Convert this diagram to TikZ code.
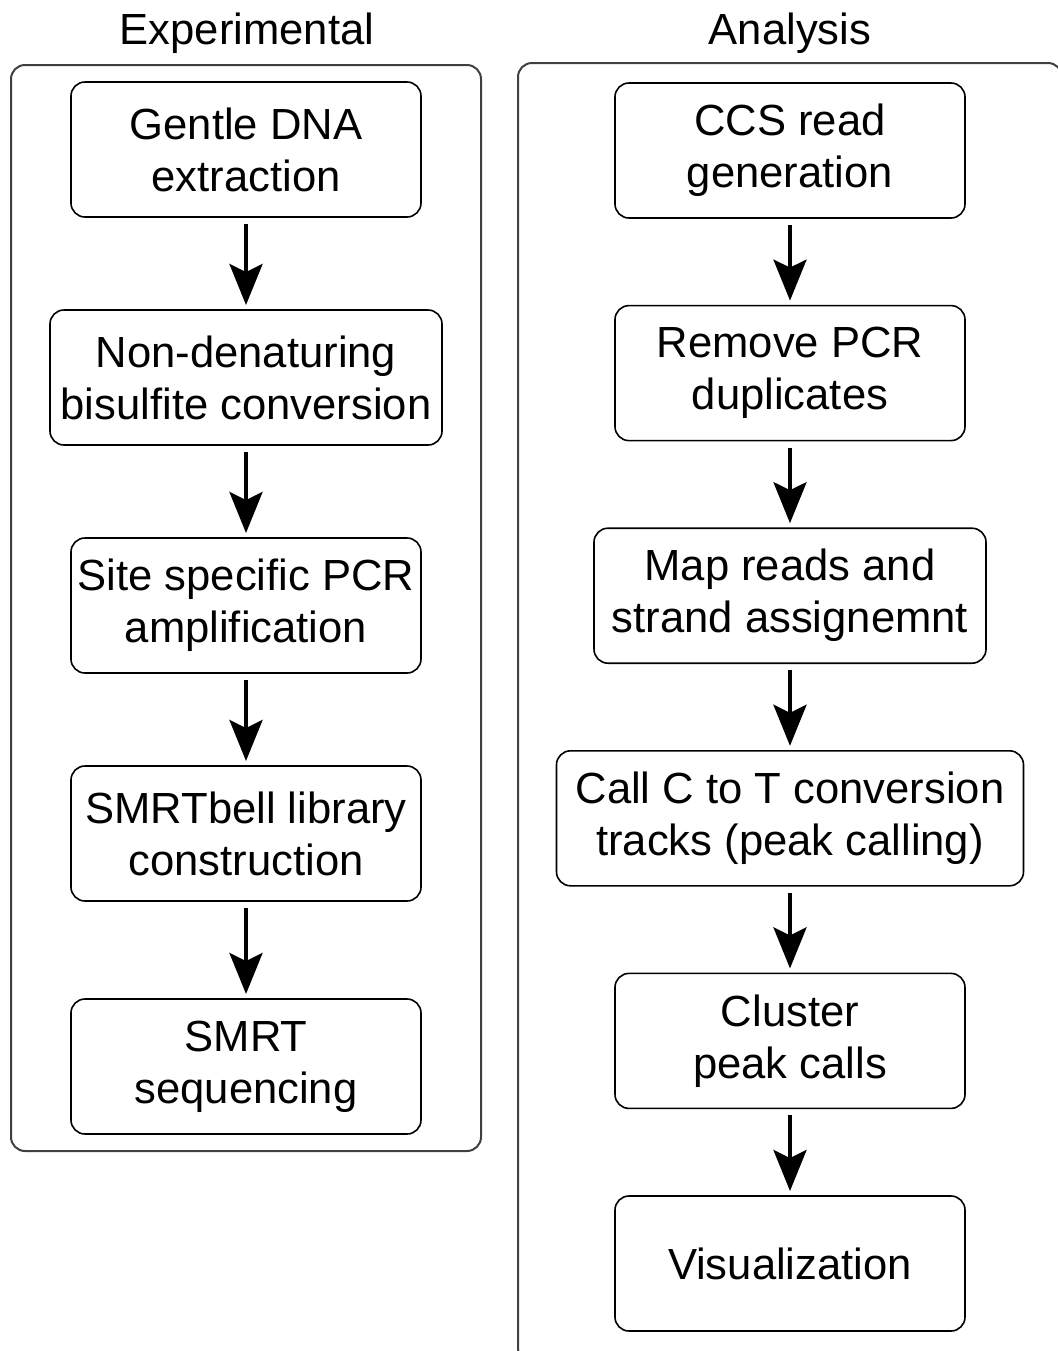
\documentclass[tikz,border=0pt]{standalone}
\usepackage{fontspec}
\setmainfont{Liberation Sans}
\usepackage{tikz}
\usetikzlibrary{arrows.meta,positioning,fit,calc}
\tikzset{
    stepbox/.style={
        draw=black,
        line width=0.8pt,
        rounded corners=7pt,
        align=center,
        inner xsep=2pt,
        outer sep=0pt,
        minimum height=67.5pt,
        minimum width=175pt,
        font=\fontsize{21.8pt}{26pt}\selectfont
    },
    panel/.style={
        draw=black!75,
        line width=1pt,
        rounded corners=7pt
    },
    heading/.style={
        anchor=base,
        font=\fontsize{21.8pt}{26pt}\selectfont
    },
    flow/.style={
        -{Stealth[length=20.5pt,width=16.5pt,inset=4pt]},
        line width=2pt,
        shorten <=3.5pt,
        shorten >=2.5pt
    }
}

\begin{document}
\begin{tikzpicture}[x=0.5pt,y=-0.5pt,node distance=46.5pt]
        \useasboundingbox (0,0) rectangle (1057,1351);

        % experimental side
        \node[stepbox] (extract) at (246,149.5) {Gentle DNA\\extraction};
        \node[stepbox, minimum width=196pt, below=of extract] (bisulfite) {Non-denaturing\\bisulfite conversion};
        \node[stepbox, below=of bisulfite] (pcr) {Site specific PCR\\amplification};
        \node[stepbox, below=of pcr] (library) {SMRTbell library\\construction};
        \node[stepbox, below=49pt of library] (seq) {SMRT\\sequencing};

        \node[panel, fit=(extract)(bisulfite)(seq), inner xsep=19.5pt, inner ysep=8.5pt] (exppanel) {};
        \node[heading] (exptitle) at (247,44) {Experimental};

        \draw[flow] (extract) -- (bisulfite);
        \draw[flow] (bisulfite) -- (pcr);
        \draw[flow] (pcr) -- (library);
        \draw[flow] (library) -- (seq);

        % analysis side
        \begin{scope}[node distance=43.8pt]
        \node[stepbox] (ccs) at (790,150.5) {CCS read\\generation};
        \node[stepbox, below=of ccs] (dedup) {Remove PCR\\duplicates};
        \node[stepbox, minimum width=196pt, below=of dedup] (mapping) {Map reads and\\strand assignemnt};
        \node[stepbox, minimum width=233.5pt, below=of mapping] (calling) {Call C to T conversion\\tracks (peak calling)};
        \node[stepbox, below=of calling] (cluster) {Cluster\\peak calls};
        \node[stepbox, below=of cluster] (visual) {Visualization};
        \end{scope}

        \draw[panel] (518,63) rectangle (1062,1362);
        \node[heading] (anatitle) at (790,44) {Analysis};

        \draw[flow] (ccs) -- (dedup);
        \draw[flow] (dedup) -- (mapping);
        \draw[flow] (mapping) -- (calling);
        \draw[flow] (calling) -- (cluster);
        \draw[flow] (cluster) -- (visual);
    \end{tikzpicture}
\end{document}
